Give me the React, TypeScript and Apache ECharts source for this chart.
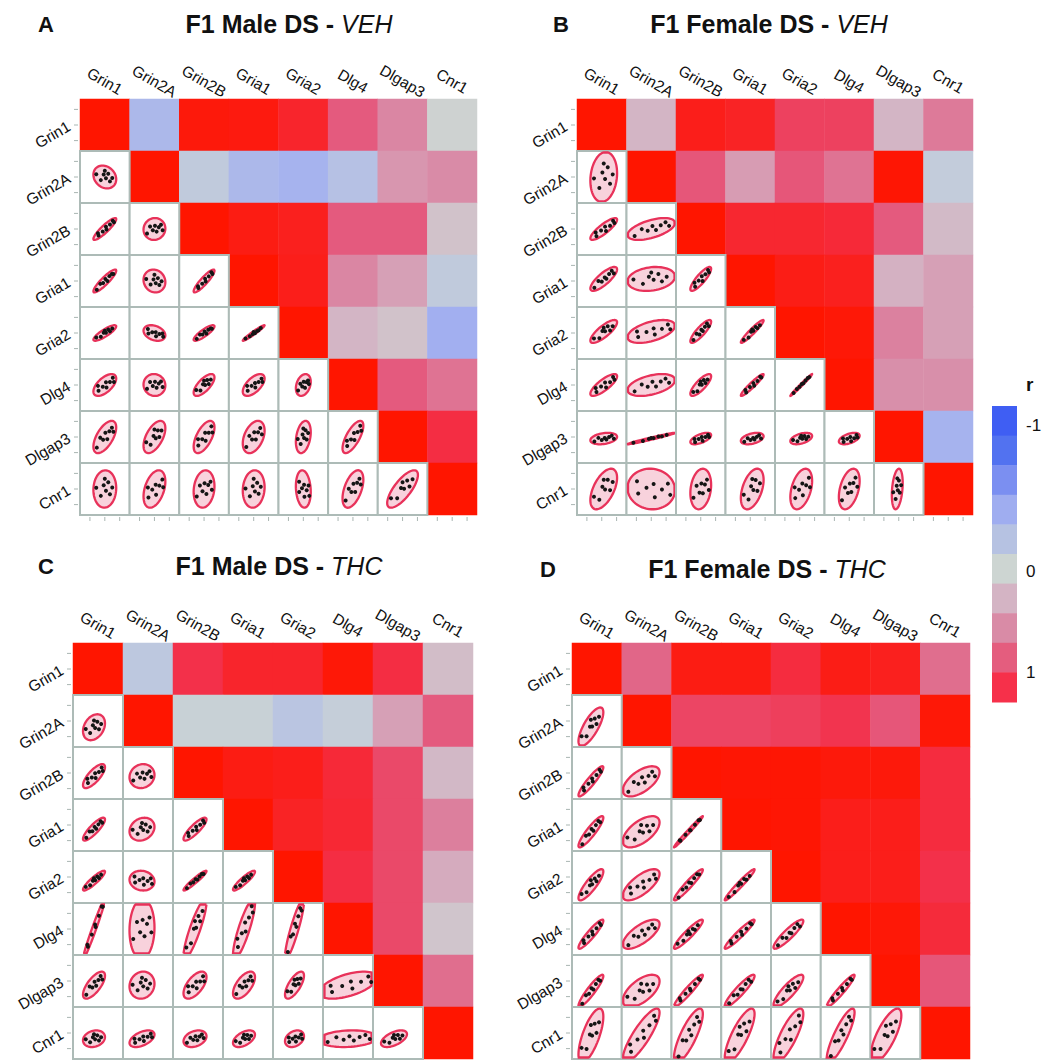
import React, { useEffect, useRef } from "react";
import * as echarts from "echarts";

const GENES = ["Grin1", "Grin2A", "Grin2B", "Gria1", "Gria2", "Dlg4", "Dlgap3", "Cnr1"];

// Upper triangle: correlation r of row gene i with genes i+1..7
const A_CORR = [
  [-0.3, 0.97, 0.96, 0.88, 0.6, 0.42, 0.02],
  [-0.12, -0.3, -0.35, -0.22, 0.35, 0.4],
  [0.95, 0.92, 0.6, 0.6, 0.12],
  [0.93, 0.42, 0.3, -0.12],
  [0.2, 0.12, -0.38],
  [0.6, 0.5],
  [0.82],
];
const B_CORR = [
  [0.2, 0.93, 0.9, 0.72, 0.72, 0.2, 0.47],
  [0.62, 0.32, 0.62, 0.5, 0.99, -0.1],
  [0.87, 0.87, 0.85, 0.6, 0.17],
  [0.94, 0.92, 0.22, 0.3],
  [0.98, 0.44, 0.3],
  [0.38, 0.38],
  [-0.35],
];
const C_CORR = [
  [-0.15, 0.8, 0.88, 0.88, 0.98, 0.82, 0.15],
  [-0.05, -0.05, -0.18, -0.08, 0.3, 0.6],
  [0.95, 0.93, 0.85, 0.68, 0.18],
  [0.9, 0.86, 0.68, 0.45],
  [0.82, 0.68, 0.25],
  [0.68, 0.1],
  [0.52],
];
const D_CORR = [
  [0.55, 0.95, 0.95, 0.83, 0.94, 0.92, 0.52],
  [0.7, 0.7, 0.73, 0.78, 0.62, 0.98],
  [0.99, 0.99, 0.97, 0.97, 0.83],
  [0.99, 0.93, 0.93, 0.83],
  [0.93, 0.93, 0.8],
  [0.98, 0.84],
  [0.62],
];

// Lower triangle: scatter ellipse correlation, row gene i (1..7) vs genes 0..i-1
const A_ELL_R = [
  [-0.2],
  [0.9, 0.05],
  [0.9, -0.1, 0.9],
  [0.85, -0.3, 0.85, 0.97],
  [0.6, -0.05, 0.7, 0.6, 0.3],
  [0.6, 0.55, 0.6, 0.4, 0.3, 0.7],
  [0.05, 0.4, 0.15, 0.1, -0.15, 0.5, 0.75],
];
const B_ELL_R = [
  [0.15],
  [0.85, 0.55],
  [0.8, 0.2, 0.85],
  [0.8, 0.5, 0.85, 0.95],
  [0.8, 0.45, 0.8, 0.95, 0.99],
  [0.3, 0.98, 0.6, 0.4, 0.45, 0.5],
  [0.55, -0.05, 0.2, 0.45, 0.4, 0.4, 0.3],
];
const C_ELL_R = [
  [0.3],
  [0.75, 0.1],
  [0.85, 0.2, 0.85],
  [0.9, -0.1, 0.95, 0.9],
  [0.98, 0.05, 0.88, 0.85, 0.9],
  [0.7, 0.1, 0.6, 0.6, 0.7, 0.55],
  [0.2, 0.5, 0.3, 0.5, 0.3, 0.15, 0.55],
];
const D_ELL_R = [
  [0.75],
  [0.92, 0.6],
  [0.9, 0.6, 0.99],
  [0.85, 0.7, 0.95, 0.97],
  [0.92, 0.7, 0.93, 0.95, 0.9],
  [0.92, 0.6, 0.95, 0.92, 0.85, 0.95],
  [0.7, 0.85, 0.8, 0.8, 0.8, 0.85, 0.75],
];

// per-gene spread (ellipse half-extent, fraction of a cell) and mean offset (fraction of a cell)
const A_SPREAD = [0.23, 0.22, 0.21, 0.22, 0.15, 0.21, 0.31, 0.36];
const B_SPREAD = [0.27, 0.48, 0.21, 0.23, 0.22, 0.21, 0.11, 0.39];
const C_SPREAD = [0.22, 0.25, 0.23, 0.22, 0.19, 0.58, 0.26, 0.16];
const D_SPREAD = [0.25, 0.37, 0.29, 0.3, 0.3, 0.28, 0.31, 0.52];
const A_MEAN = [0, 0, 0, 0, 0, 0, 0, 0];
const B_MEAN = [0.04, 0, 0, 0.04, 0.03, 0, -0.03, 0];
const C_MEAN = [-0.08, -0.12, -0.06, -0.08, -0.07, 0, -0.08, -0.11];
const D_MEAN = [-0.12, -0.11, -0.16, -0.13, -0.15, -0.1, -0.19, -0.05];

// standardized sample positions inside each scatter ellipse
const DOT_PATTERNS = [
  [[-0.7, -0.3], [-0.4, 0.25], [-0.15, -0.1], [0.05, 0.3], [0.2, -0.25], [0.4, 0.15], [0.6, 0.35], [0.75, -0.15]],
  [[-0.75, 0.1], [-0.35, -0.35], [-0.1, 0.2], [0.1, -0.1], [0.3, 0.35], [0.45, -0.3], [0.65, 0.05], [0.0, 0.55]],
  [[-0.6, 0.35], [-0.55, -0.25], [-0.2, 0.05], [0.1, 0.25], [0.15, -0.4], [0.45, 0.0], [0.7, 0.3], [0.8, -0.25]],
];

const PANELS = [
  { letter: "A", title: "F1 Male DS - ", group: "VEH", corr: A_CORR, ellR: A_ELL_R, spread: A_SPREAD, mean: A_MEAN },
  { letter: "B", title: "F1 Female DS - ", group: "VEH", corr: B_CORR, ellR: B_ELL_R, spread: B_SPREAD, mean: B_MEAN },
  { letter: "C", title: "F1 Male DS - ", group: "THC", corr: C_CORR, ellR: C_ELL_R, spread: C_SPREAD, mean: C_MEAN },
  { letter: "D", title: "F1 Female DS - ", group: "THC", corr: D_CORR, ellR: D_ELL_R, spread: D_SPREAD, mean: D_MEAN },
];

const GRID_BOXES = [
  { left: 80, top: 99, width: 397, height: 416 },
  { left: 577, top: 99, width: 396, height: 416 },
  { left: 73, top: 643, width: 400, height: 416 },
  { left: 572, top: 643, width: 398, height: 416 },
];
const TITLE_POS = [
  { lx: 46, tx: 289, y: 24 },
  { lx: 561, tx: 769, y: 24 },
  { lx: 46, tx: 279, y: 566 },
  { lx: 548, tx: 767, y: 569 },
];

const HEAT_COLORS = ["#3d5bf5", "#5270f1", "#7c8ff1", "#a0adf1", "#b8c3e3", "#cdd5d2", "#d3b5c5", "#d98ba7", "#e45a7e", "#f3304a", "#ff1500"];
const COLORBAR_COLORS = ["#3f5ef3", "#5272f0", "#7b8ff1", "#9fadf0", "#b6c2e2", "#cdd5d2", "#d4b4c4", "#d98ba6", "#e45d7e", "#f6304a"];
const COLORBAR_LABELS = [
  { text: "-1", y: 425 },
  { text: "0", y: 571 },
  { text: "1", y: 672 },
];

const FONT = '"Liberation Sans", Arial, Helvetica, sans-serif';
const GRID_LINE = "#adbbb7";

function buildOption() {
  const grid = GRID_BOXES.map((g) => ({ ...g, containLabel: false }));
  const xAxis = PANELS.map((_, p) => ({
    type: "category",
    gridIndex: p,
    data: GENES,
    position: "top",
    axisLine: { show: false },
    axisTick: { show: false },
    splitLine: { show: false },
    axisLabel: {
      interval: 0,
      rotate: 30,
      align: "center",
      verticalAlign: "middle",
      margin: 18,
      color: "#111",
      fontSize: 15.5,
      fontFamily: FONT,
    },
  }));
  const yAxis = PANELS.map((_, p) => ({
    type: "category",
    gridIndex: p,
    data: GENES,
    inverse: true,
    axisLine: { show: false },
    axisTick: { show: false },
    splitLine: { show: false },
    axisLabel: {
      interval: 0,
      rotate: 30,
      margin: 11,
      color: "#111",
      fontSize: 15.5,
      fontFamily: FONT,
    },
  }));

  const series: any[] = [];
  PANELS.forEach((pn, p) => {
    const data: any[] = [];
    for (let i = 0; i < GENES.length; i++) {
      data.push([i, i, 1]);
      for (let j = i + 1; j < GENES.length; j++) data.push([j, i, pn.corr[i][j - i - 1]]);
    }
    series.push({
      type: "heatmap",
      xAxisIndex: p,
      yAxisIndex: p,
      data,
      silent: true,
      itemStyle: { borderWidth: 0 },
      emphasis: { disabled: true },
    });
  });

  PANELS.forEach((pn, p) => {
    const data: any[] = [];
    for (let i = 1; i < GENES.length; i++) for (let j = 0; j < i; j++) data.push([j, i]);
    series.push({
      type: "custom",
      xAxisIndex: p,
      yAxisIndex: p,
      data,
      silent: true,
      renderItem: (params: any, api: any) => {
        const j = api.value(0);
        const i = api.value(1);
        const c = api.coord([j, i]);
        const sz = api.size([1, 1]);
        const w = sz[0];
        const h = sz[1];
        const x0 = c[0] - w / 2;
        const y0 = c[1] - h / 2;
        const r = Math.max(-0.995, Math.min(0.995, pn.ellR[i - 1][j]));
        const q = Math.sqrt(1 - r * r);
        const sx = pn.spread[j] * w;
        const sy = pn.spread[i] * h;
        const cx = c[0] + pn.mean[j] * w;
        const cy = c[1] - pn.mean[i] * h;
        const minX = x0 + 1.5, maxX = x0 + w - 1.5, minY = y0 + 1.5, maxY = y0 + h - 1.5;
        const clampX = (v: number) => Math.max(minX, Math.min(maxX, v));
        const clampY = (v: number) => Math.max(minY, Math.min(maxY, v));
        const pts: number[][] = [];
        const N = 60;
        for (let k = 0; k <= N; k++) {
          const t = (2 * Math.PI * k) / N;
          const u = Math.cos(t);
          const v = Math.sin(t);
          pts.push([clampX(cx + sx * u), clampY(cy - sy * (r * u + q * v))]);
        }
        const children: any[] = [
          {
            type: "rect",
            shape: { x: x0, y: y0, width: w, height: h },
            style: { fill: "#ffffff", stroke: GRID_LINE, lineWidth: 2 },
          },
          {
            type: "polygon",
            shape: { points: pts },
            style: { fill: "#f8d2dc", stroke: "#e8325a", lineWidth: 2.3 },
          },
        ];
        const pattern = DOT_PATTERNS[(i * 7 + j) % DOT_PATTERNS.length];
        pattern.forEach(([u, v]) => {
          const dx = cx + sx * u;
          const dy = cy - sy * (r * u + q * v);
          if (dx < minX || dx > maxX || dy < minY || dy > maxY) return;
          children.push({
            type: "circle",
            shape: { cx: dx, cy: dy, r: 2 },
            style: { fill: "#151515" },
          });
        });
        return { type: "group", children };
      },
    });
  });

  PANELS.forEach((pn, p) => {
    const data: any[] = [];
    for (let i = 0; i < GENES.length; i++) data.push([0, i, 0]);
    for (let j = 0; j < GENES.length; j++) data.push([j, GENES.length - 1, 1]);
    series.push({
      type: "custom",
      xAxisIndex: p,
      yAxisIndex: p,
      data,
      silent: true,
      renderItem: (params: any, api: any) => {
        const kind = api.value(2);
        const c = api.coord([api.value(0), api.value(1)]);
        const sz = api.size([1, 1]);
        const w = sz[0];
        const h = sz[1];
        const children: any[] = [];
        [-0.3, 0, 0.3].forEach((f) => {
          if (kind === 0) {
            const x = c[0] - w / 2;
            const y = c[1] + f * h;
            children.push({ type: "line", shape: { x1: x - 6, y1: y, x2: x - 2, y2: y }, style: { stroke: "#a9b6b2", lineWidth: 1 } });
          } else {
            const x = c[0] + f * w;
            const y = c[1] + h / 2;
            children.push({ type: "line", shape: { x1: x, y1: y + 2, x2: x, y2: y + 6 }, style: { stroke: "#a9b6b2", lineWidth: 1 } });
          }
        });
        return { type: "group", children };
      },
    });
  });

  const graphic: any[] = [];
  PANELS.forEach((pn, p) => {
    const tp = TITLE_POS[p];
    graphic.push({
      type: "text",
      x: tp.lx,
      y: tp.y,
      style: { text: pn.letter, font: `bold 22px ${FONT}`, fill: "#111", align: "center", verticalAlign: "middle" },
    });
    graphic.push({
      type: "text",
      x: tp.tx,
      y: tp.y,
      style: {
        text: `{b|${pn.title}}{i|${pn.group}}`,
        fill: "#111",
        align: "center",
        verticalAlign: "middle",
        rich: {
          b: { font: `bold 25px ${FONT}`, fill: "#111" },
          i: { font: `italic 25px ${FONT}`, fill: "#111" },
        },
      },
    });
  });
  const cbTop = 406;
  const cbH = 29.6;
  COLORBAR_COLORS.forEach((col, k) => {
    graphic.push({
      type: "rect",
      shape: { x: 992, y: cbTop + k * cbH, width: 25, height: cbH + 0.5 },
      style: { fill: col },
    });
  });
  graphic.push({
    type: "text",
    x: 1026,
    y: 384,
    style: { text: "r", font: `bold 19px ${FONT}`, fill: "#111", align: "left", verticalAlign: "middle" },
  });
  COLORBAR_LABELS.forEach((lb) => {
    graphic.push({
      type: "text",
      x: 1026,
      y: lb.y,
      style: { text: lb.text, font: `17px ${FONT}`, fill: "#111", align: "left", verticalAlign: "middle" },
    });
  });

  return {
    animation: false,
    backgroundColor: "#ffffff",
    grid,
    xAxis,
    yAxis,
    visualMap: {
      type: "continuous",
      show: false,
      min: -1,
      max: 1,
      seriesIndex: [0, 1, 2, 3],
      inRange: { color: HEAT_COLORS },
    },
    series,
    graphic,
  };
}

export default function App() {
  const ref = useRef<HTMLDivElement>(null);
  useEffect(() => {
    if (!ref.current) return;
    const chart = echarts.init(ref.current, undefined, { renderer: "svg" });
    chart.setOption(buildOption() as any);
    return () => chart.dispose();
  }, []);
  return (
    <div
      ref={ref}
      style={{ position: "fixed", left: 0, top: 0, width: 1049, height: 1061, background: "#fff" }}
    />
  );
}
